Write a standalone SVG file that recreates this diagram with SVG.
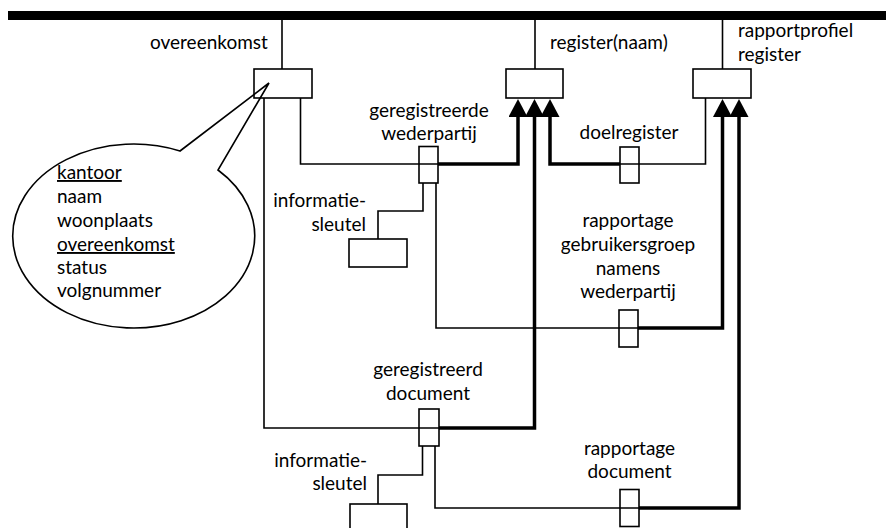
<svg xmlns="http://www.w3.org/2000/svg" width="886" height="528" viewBox="0 0 886 528">
<defs>
<style>
text{font-family:Lato,"Liberation Sans",sans-serif;font-size:19px;fill:#000}
.c{text-anchor:middle}
.r{text-anchor:end}
.u{text-decoration:underline}
.box{fill:none;stroke:#000;stroke-width:1.6}
.thin{fill:none;stroke:#000;stroke-width:1.6}
.thick{fill:none;stroke:#000;stroke-width:3.5;stroke-linejoin:miter;marker-end:url(#ah)}
</style>
<marker id="ah" viewBox="0 0 18 19" refX="0" refY="9.5" markerWidth="18" markerHeight="19" markerUnits="userSpaceOnUse" orient="auto">
<path d="M0,0 L18,9.5 L0,19 Z" fill="#000"/>
</marker>
</defs>
<rect id="bar" x="8" y="11" width="878" height="9" fill="#000"/>

<g id="connectors">
<path class="thin" d="M282 20 V69"/>
<path class="thin" d="M535 20 V69"/>
<path class="thin" d="M722.5 20 V69"/>
<path class="thin" d="M300.5 98 V164 H438"/>
<path class="thick" d="M438 164 H518 V117"/>
<path class="thin" d="M264 98 V428 H439"/>
<path class="thick" d="M439 428 H534.5 V117"/>
<path class="thin" d="M705.5 98 V164 H620"/>
<path class="thick" d="M620 164 H550 V117"/>
<path class="thin" d="M423 183 V211 H378 V239"/>
<path class="thin" d="M436 183 V328 H638"/>
<path class="thick" d="M638 328 H722.5 V117"/>
<path class="thin" d="M422.5 446 V475 H378 V504"/>
<path class="thin" d="M435 446 V508 H639"/>
<path class="thick" d="M639 508 H739 V117"/>
</g>

<g id="overeenkomst">
<rect class="box" x="254" y="69" width="58" height="29"/>
<text x="150" y="49">overeenkomst</text>
</g>
<g id="register">
<rect class="box" x="506" y="69" width="57" height="29"/>
<text x="550" y="49">register(naam)</text>
</g>
<g id="rapportprofiel-register">
<rect class="box" x="693" y="69" width="58" height="29"/>
<text x="738" y="37">rapportprofiel</text>
<text x="738" y="61">register</text>
</g>
<g id="geregistreerde-wederpartij">
<rect class="box" x="419" y="146.5" width="19" height="36.5"/>
<text class="c" x="429" y="117">geregistreerde</text>
<text class="c" x="429" y="140">wederpartij</text>
</g>
<g id="doelregister">
<rect class="box" x="620" y="147" width="19" height="36"/>
<text class="c" x="629" y="139">doelregister</text>
</g>
<g id="informatiesleutel-1">
<rect class="box" x="349" y="239" width="58" height="28"/>
<text class="r" x="366" y="207">informatie-</text>
<text class="r" x="366" y="231">sleutel</text>
</g>
<g id="rapportage-gebruikersgroep">
<rect class="box" x="619" y="310" width="19" height="37"/>
<text class="c" x="628" y="227">rapportage</text>
<text class="c" x="628" y="251">gebruikersgroep</text>
<text class="c" x="628" y="275">namens</text>
<text class="c" x="628" y="298">wederpartij</text>
</g>
<g id="geregistreerd-document">
<rect class="box" x="419" y="409" width="20" height="37"/>
<text class="c" x="428" y="376">geregistreerd</text>
<text class="c" x="428" y="400">document</text>
</g>
<g id="informatiesleutel-2">
<rect class="box" x="350" y="504" width="57" height="30"/>
<text class="r" x="367" y="467">informatie-</text>
<text class="r" x="367" y="490">sleutel</text>
</g>
<g id="rapportage-document">
<rect class="box" x="620" y="489.5" width="19" height="37"/>
<text class="c" x="629.5" y="455">rapportage</text>
<text class="c" x="629.5" y="478">document</text>
</g>

<g id="callout">
<path class="thin" d="M180 151 L269 83 L218 170 A121 92 0 1 1 180 151 Z"/>
<text x="57" y="179" class="u">kantoor</text>
<text x="57" y="203">naam</text>
<text x="57" y="227">woonplaats</text>
<text x="57" y="251" class="u">overeenkomst</text>
<text x="57" y="274">status</text>
<text x="57" y="297">volgnummer</text>
</g>
</svg>
